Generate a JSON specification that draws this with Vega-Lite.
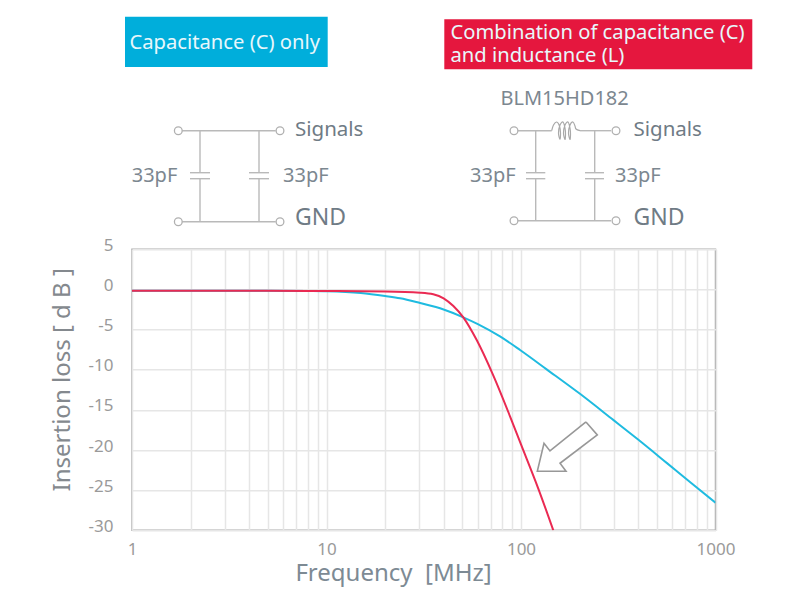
{"$schema":"https://vega.github.io/schema/vega-lite/v6.json","width":583.5,"height":281,"autosize":"none","padding":{"left":132,"top":249.3,"right":94.5,"bottom":82.7},"background":"white",
"config":{"view":{"stroke":"#ababab","strokeWidth":1.5},"font":"Noto Sans"},
"datasets":{
"curves":[
{"f":1,"db":-0.15,"s":"C only"},{"f":2,"db":-0.15,"s":"C only"},{"f":3,"db":-0.15,"s":"C only"},{"f":5,"db":-0.17,"s":"C only"},{"f":8,"db":-0.2,"s":"C only"},{"f":10,"db":-0.23,"s":"C only"},{"f":15,"db":-0.45,"s":"C only"},{"f":20,"db":-0.82,"s":"C only"},{"f":23.9,"db":-1.1,"s":"C only"},{"f":30.3,"db":-1.7,"s":"C only"},{"f":40,"db":-2.5,"s":"C only"},{"f":50.5,"db":-3.47,"s":"C only"},{"f":60,"db":-4.32,"s":"C only"},{"f":78,"db":-5.85,"s":"C only"},{"f":98.9,"db":-7.54,"s":"C only"},{"f":135.5,"db":-9.95,"s":"C only"},{"f":201,"db":-13,"s":"C only"},{"f":298,"db":-16.25,"s":"C only"},{"f":400,"db":-18.7,"s":"C only"},{"f":561,"db":-21.6,"s":"C only"},{"f":750,"db":-24.1,"s":"C only"},{"f":1000,"db":-26.55,"s":"C only"},
{"f":1,"db":-0.15,"s":"C and L"},{"f":2,"db":-0.15,"s":"C and L"},{"f":3,"db":-0.15,"s":"C and L"},{"f":5,"db":-0.16,"s":"C and L"},{"f":8,"db":-0.18,"s":"C and L"},{"f":20,"db":-0.25,"s":"C and L"},{"f":30.3,"db":-0.4,"s":"C and L"},{"f":35.4,"db":-0.6,"s":"C and L"},{"f":40,"db":-1.1,"s":"C and L"},{"f":44.9,"db":-2.06,"s":"C and L"},{"f":50.5,"db":-3.47,"s":"C and L"},{"f":59.2,"db":-6.3,"s":"C and L"},{"f":72,"db":-10.7,"s":"C and L"},{"f":87.8,"db":-15.8,"s":"C and L"},{"f":100,"db":-19.3,"s":"C and L"},{"f":122.7,"db":-24.8,"s":"C and L"},{"f":146.6,"db":-30,"s":"C and L"}],
"arrow":[{"f":215.8,"db":-16.5,"o":1},{"f":246.8,"db":-18.13,"o":2},{"f":158.7,"db":-21.65,"o":3},{"f":170.4,"db":-22.65,"o":4},{"f":121.3,"db":-22.65,"o":5},{"f":131.3,"db":-19.16,"o":6},{"f":140.9,"db":-20.12,"o":7},{"f":215.8,"db":-16.5,"o":8}],
"boxes":[{"x":12.5,"x2":32.77,"y":1.67,"y2":6.7,"s":"C only"},{"x":44.43,"x2":75.23,"y":1.93,"y2":6.93,"s":"C and L"}],
"wires":[
{"x":17.83,"x2":27.57,"y":13.07,"y2":13.07},{"x":17.83,"x2":27.57,"y":22.17,"y2":22.17},
{"x":20,"x2":20,"y":13.07,"y2":17.27},{"x":20,"x2":20,"y":17.87,"y2":22.17},{"x":25.9,"x2":25.9,"y":13.07,"y2":17.27},{"x":25.9,"x2":25.9,"y":17.87,"y2":22.17},
{"x":19,"x2":21,"y":17.27,"y2":17.27},{"x":19,"x2":21,"y":17.87,"y2":17.87},{"x":24.9,"x2":26.9,"y":17.27,"y2":17.27},{"x":24.9,"x2":26.9,"y":17.87,"y2":17.87},
{"x":51.4,"x2":55.17,"y":13.07,"y2":13.07},{"x":58,"x2":61.1,"y":13.07,"y2":13.07},{"x":51.4,"x2":61.1,"y":22.07,"y2":22.07},
{"x":53.57,"x2":53.57,"y":13.07,"y2":17.27},{"x":53.57,"x2":53.57,"y":17.87,"y2":22.07},{"x":59.47,"x2":59.47,"y":13.07,"y2":17.27},{"x":59.47,"x2":59.47,"y":17.87,"y2":22.07},
{"x":52.6,"x2":54.53,"y":17.27,"y2":17.27},{"x":52.6,"x2":54.53,"y":17.87,"y2":17.87},{"x":58.5,"x2":60.4,"y":17.27,"y2":17.27},{"x":58.5,"x2":60.4,"y":17.87,"y2":17.87}],
"coil":[{"x":55.17,"y":13.07,"o":1},{"x":55.35,"y":12.5,"o":2},{"x":55.67,"y":12.2,"o":3},{"x":55.95,"y":12.6,"o":4},{"x":56.05,"y":13.3,"o":5},{"x":56,"y":13.95,"o":6},{"x":55.85,"y":13.3,"o":7},{"x":56,"y":12.5,"o":8},{"x":56.3,"y":12.2,"o":9},{"x":56.5,"y":12.8,"o":10},{"x":56.55,"y":13.4,"o":11},{"x":56.5,"y":13.95,"o":12},{"x":56.35,"y":13.3,"o":13},{"x":56.5,"y":12.5,"o":14},{"x":56.8,"y":12.2,"o":15},{"x":57,"y":12.8,"o":16},{"x":57.05,"y":13.4,"o":17},{"x":57,"y":13.95,"o":18},{"x":56.85,"y":13.3,"o":19},{"x":57,"y":12.5,"o":20},{"x":57.3,"y":12.2,"o":21},{"x":57.5,"y":12.6,"o":22},{"x":57.6,"y":12.9,"o":23},{"x":58,"y":13.07,"o":24}],
"terminals":[{"x":17.83,"y":13.07},{"x":28,"y":13.07},{"x":17.83,"y":22.17},{"x":28,"y":22.17},{"x":51.4,"y":13.07},{"x":61.6,"y":13.07},{"x":51.4,"y":22.07},{"x":61.6,"y":22.07}],
"boxtext":[{"x":12.95,"y":4.9,"t":"Capacitance (C) only"},{"x":45.05,"y":3.9,"t":"Combination of capacitance (C)"},{"x":45.05,"y":6.2,"t":"and inductance (L)"}],
"caps":[{"x":13.17,"y":18.2,"t":"33pF"},{"x":28.3,"y":18.2,"t":"33pF"},{"x":47,"y":18.2,"t":"33pF"},{"x":61.5,"y":18.2,"t":"33pF"},{"x":50.05,"y":10.5,"t":"BLM15HD182"}],
"ports":[{"x":29.5,"y":13.6,"t":"Signals"},{"x":29.5,"y":22.5,"t":"GND"},{"x":63.35,"y":13.6,"t":"Signals"},{"x":63.35,"y":22.5,"t":"GND"}]
},
"layer":[
{"layer":[
{"data":{"name":"curves"},"mark":{"type":"line","interpolate":"monotone","strokeWidth":2,"clip":true},
"encoding":{"x":{"field":"f","type":"quantitative","scale":{"type":"log","domain":[1,1000],"nice":false},
"axis":{"values":[1,2,3,4,5,6,7,8,9,10,20,30,40,50,60,70,80,90,100,200,300,400,500,600,700,800,900,1000],"format":"d","labelExpr":"indexof([1,10,100,1000],datum.value)>=0?datum.label:''","grid":true,"gridColor":"#e6e6e6","gridWidth":1.5,"ticks":false,"domain":false,"labelColor":"#9a9a9a","labelFontSize":17,"labelPadding":11,"labelFlush":false,"labelOverlap":false,"title":"Frequency\u00a0\u00a0[MHz]","titleX":261,"titleFontSize":24,"titleFontWeight":"normal","titleColor":"#7d8a94","titlePadding":4}},
"y":{"field":"db","type":"quantitative","scale":{"domain":[-30,5],"nice":false,"zero":false},
"axis":{"values":[-30,-25,-20,-15,-10,-5,0,5],"labelExpr":"''+datum.value","grid":true,"gridColor":"#e6e6e6","gridWidth":1.5,"ticks":false,"domain":false,"labelColor":"#9a9a9a","labelFontSize":17,"labelPadding":19,"labelOffset":-4,"labelBaseline":"middle","labelFlush":false,"title":"Insertion loss [ d B ]","titleY":130,"titleFontSize":24,"titleFontWeight":"normal","titleColor":"#84898e","titlePadding":14}},
"color":{"field":"s","type":"nominal","scale":{"domain":["C only","C and L"],"range":["#1fbbe0","#ea2a52"]},"legend":null},
"detail":{"field":"s"}}},
{"data":{"name":"arrow"},"mark":{"type":"line","stroke":"#989898","fill":"white","strokeWidth":1.6},
"encoding":{"x":{"field":"f","type":"quantitative"},"y":{"field":"db","type":"quantitative"},"order":{"field":"o"}}}
]},
{"layer":[
{"data":{"name":"boxes"},"mark":{"type":"rect"},"encoding":{"x":{"field":"x","type":"quantitative","scale":{"domain":[13.2,71.55],"nice":false,"zero":false},"axis":null},"x2":{"field":"x2"},"y":{"field":"y","type":"quantitative","scale":{"domain":[24.93,53.03],"nice":false,"zero":false,"reverse":true},"axis":null},"y2":{"field":"y2"},"color":{"field":"s","type":"nominal","scale":{"domain":["C only","C and L"],"range":["#00aedb","#e5173e"]},"legend":null}}},
{"data":{"name":"wires"},"mark":{"type":"rule","stroke":"#b9b9b9","strokeWidth":1.4},"encoding":{"x":{"field":"x","type":"quantitative"},"x2":{"field":"x2"},"y":{"field":"y","type":"quantitative"},"y2":{"field":"y2"}}},
{"data":{"name":"coil"},"mark":{"type":"line","interpolate":"cardinal","stroke":"#a9a9a9","strokeWidth":1.2},"encoding":{"x":{"field":"x","type":"quantitative"},"y":{"field":"y","type":"quantitative"},"order":{"field":"o"}}},
{"data":{"name":"terminals"},"mark":{"type":"point","filled":false,"fill":"white","stroke":"#b0b0b0","strokeWidth":1.3,"opacity":1,"size":60},"encoding":{"x":{"field":"x","type":"quantitative"},"y":{"field":"y","type":"quantitative"}}},
{"data":{"name":"boxtext"},"mark":{"type":"text","align":"left","baseline":"alphabetic","fontSize":20.2,"color":"#e8f7fb"},"encoding":{"x":{"field":"x","type":"quantitative"},"y":{"field":"y","type":"quantitative"},"text":{"field":"t"}}},
{"data":{"name":"caps"},"mark":{"type":"text","align":"left","baseline":"alphabetic","fontSize":20,"color":"#7c8790"},"encoding":{"x":{"field":"x","type":"quantitative"},"y":{"field":"y","type":"quantitative"},"text":{"field":"t"}}},
{"data":{"name":"ports"},"transform":[{"filter":"datum.t=='Signals'"}],"mark":{"type":"text","align":"left","baseline":"alphabetic","fontSize":20.5,"color":"#6f7b85"},"encoding":{"x":{"field":"x","type":"quantitative"},"y":{"field":"y","type":"quantitative"},"text":{"field":"t"}}},
{"data":{"name":"ports"},"transform":[{"filter":"datum.t=='GND'"}],"mark":{"type":"text","align":"left","baseline":"alphabetic","fontSize":23,"color":"#6f7b85"},"encoding":{"x":{"field":"x","type":"quantitative"},"y":{"field":"y","type":"quantitative"},"text":{"field":"t"}}}
]}
],
"resolve":{"scale":{"x":"independent","y":"independent","color":"independent"}}}
